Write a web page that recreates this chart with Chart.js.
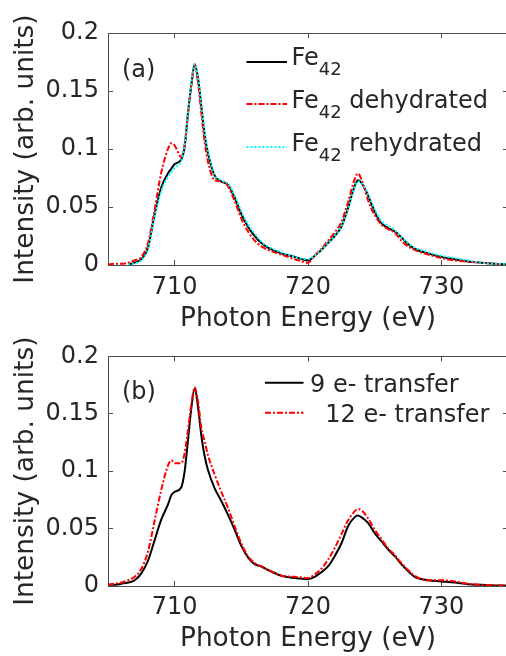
<!DOCTYPE html>
<html>
<head>
<meta charset="utf-8">
<script src="https://cdn.jsdelivr.net/npm/chart.js@4.4.1/dist/chart.umd.min.js"></script>
<style>
body{margin:0;background:#fff;overflow:hidden;}
#wrap{position:relative;width:506px;height:656px;overflow:hidden;}
canvas{position:absolute;left:0;}
#panelA{top:0;}
#panelB{top:328px;}
</style>
</head>
<body>
<div id="wrap">
<canvas id="panelA" width="510" height="336"></canvas>
<canvas id="panelB" width="510" height="328"></canvas>
</div>
<script>
var energy = [705,705.5,706,706.5,707,707.5,708,708.5,709,709.5,709.75,710,710.5,710.75,711,711.25,711.5,711.75,712,712.25,712.5,713,713.5,714,714.5,715,715.5,716,716.5,717,718,719,720,720.5,721,721.5,722,722.5,723,723.5,723.75,724,724.5,725,725.5,726,726.5,727,727.5,728,729,730,731,732,733,734,735];

// panel (a)
var fe42 = [null,null,null,0.0005,0.002,0.005,0.015,0.044,0.067,0.079,0.083,0.087,0.091,0.102,0.131,0.155,0.173,0.161,0.137,0.112,0.096,0.077,0.072,0.069,0.058,0.044,0.033,0.025,0.019,0.015,0.010,0.007,0.004,0.008,0.013,0.019,0.025,0.033,0.049,0.068,0.073,0.071,0.060,0.046,0.036,0.032,0.029,0.024,0.018,0.014,0.010,0.007,0.005,0.003,0.002,0.001,0.0005];
var fe42Dehydrated = [0.0005,0.001,0.001,0.002,0.004,0.007,0.019,0.048,0.080,0.100,0.105,0.103,0.093,0.104,0.130,0.156,0.173,0.157,0.131,0.106,0.089,0.073,0.072,0.068,0.055,0.040,0.029,0.021,0.016,0.013,0.009,0.005,0.002,0.008,0.014,0.021,0.028,0.037,0.054,0.074,0.079,0.074,0.056,0.043,0.035,0.031,0.028,0.021,0.016,0.013,0.009,0.006,0.004,0.003,0.002,0.001,0.0005];
var fe42Rehydrated = [null,null,null,0.0003,0.0015,0.004,0.014,0.042,0.064,0.076,0.080,0.084,0.090,0.103,0.131,0.157,0.173,0.162,0.139,0.115,0.098,0.078,0.073,0.070,0.060,0.046,0.035,0.027,0.020,0.016,0.011,0.007,0.005,0.008,0.013,0.019,0.025,0.033,0.048,0.067,0.072,0.071,0.061,0.048,0.038,0.034,0.030,0.024,0.019,0.015,0.011,0.008,0.006,0.004,0.002,0.001,0.001];

// panel (b)
var transfer9 = [0.001,0.001,0.002,0.003,0.005,0.011,0.022,0.040,0.058,0.071,0.079,0.082,0.086,0.100,0.127,0.155,0.172,0.156,0.131,0.113,0.101,0.085,0.074,0.062,0.049,0.035,0.025,0.019,0.017,0.014,0.009,0.007,0.006,0.008,0.012,0.017,0.026,0.037,0.052,0.060,0.0615,0.060,0.055,0.046,0.039,0.032,0.026,0.019,0.013,0.008,0.005,0.004,0.003,0.0015,0.001,0.0005,0.0003];
var transfer12 = [0.001,0.002,0.003,0.005,0.008,0.015,0.030,0.057,0.084,0.105,0.1095,0.107,0.107,0.116,0.136,0.158,0.173,0.161,0.138,0.126,0.114,0.097,0.082,0.068,0.052,0.037,0.026,0.020,0.017,0.014,0.009,0.008,0.007,0.010,0.015,0.023,0.033,0.045,0.057,0.065,0.067,0.066,0.059,0.049,0.041,0.033,0.027,0.020,0.014,0.009,0.005,0.005,0.004,0.002,0.001,0.0005,0.0003];

var xTicks = [710, 720, 730];
var yTicks = [0, 0.05, 0.1, 0.15, 0.2];
var labelsA = ['Fe_42', 'Fe_42 dehydrated', 'Fe_42 rehydrated'];
var labelsB = ['9 e- transfer', '  12 e- transfer'];

var FONT = 'DejaVu Sans';
var INK = '#262626';
var AXIS = '#4d4d4d';

function points(ys){
    var out = [];
    for (var i = 0; i < energy.length; i++) out.push({x: energy[i], y: ys[i]});
    return out;
}

function setTicks(list){
    return function(scale){
        scale.ticks = list.map(function(v){ return {value: v}; });
    };
}

// legend with subscripts + panel tag
var legendPlugin = {
    id: 'xasLegend',
    afterDraw: function(chart, args, opts){
        var ctx = chart.ctx;
        ctx.save();
        chart.data.datasets.forEach(function(ds, i){
            var ly = opts.lineY[i];
            ctx.strokeStyle = ds.borderColor;
            ctx.lineWidth = ds.borderWidth;
            ctx.setLineDash(ds.borderDash || []);
            ctx.beginPath();
            ctx.moveTo(opts.x0, ly);
            ctx.lineTo(opts.x1, ly);
            ctx.stroke();
            ctx.setLineDash([]);

            var tx = opts.textX, by = opts.baseY[i];
            var m = /^(.*?)_(\d+)(.*)$/.exec(ds.label);
            ctx.fillStyle = INK;
            ctx.textAlign = 'left';
            ctx.textBaseline = 'alphabetic';
            ctx.font = '24px "' + FONT + '"';
            if (m) {
                ctx.fillText(m[1], tx, by);
                tx += ctx.measureText(m[1]).width;
                ctx.font = '18px "' + FONT + '"';
                ctx.fillText(m[2], tx, by + 10);
                tx += ctx.measureText(m[2]).width;
                ctx.font = '24px "' + FONT + '"';
                ctx.fillText(m[3], tx, by);
            } else {
                ctx.fillText(ds.label, tx, by);
            }
        });
        ctx.font = '24px "' + FONT + '"';
        ctx.fillText(opts.tag, opts.tagX, opts.tagY);
        ctx.restore();
    }
};

function makeScales(area){
    var font = {family: FONT, size: 24};
    var titleFont = {family: FONT, size: 26.4};
    var scales = {};
    scales.x = {
        type: 'linear', min: 705, max: 735, position: 'bottom',
        afterBuildTicks: setTicks(xTicks),
        afterFit: function(s){ s.height = area.xHeight; },
        ticks: {font: font, color: INK, padding: area.xTickPad, maxRotation: 0, callback: function(v){ return String(v); }},
        grid: {drawOnChartArea: false, tickLength: -5, color: AXIS},
        border: {color: AXIS, width: 1},
        title: {display: true, text: 'Photon Energy (eV)', font: titleFont, color: INK, padding: {top: 0, bottom: area.xTitlePad}}
    };
    scales.y = {
        type: 'linear', min: 0, max: 0.2, position: 'left',
        afterBuildTicks: setTicks(yTicks),
        afterFit: function(s){ s.width = 108; },
        ticks: {font: font, color: INK, padding: 14, callback: function(v){ return String(v); }},
        grid: {drawOnChartArea: false, tickLength: -5, color: AXIS},
        border: {color: AXIS, width: 1},
        title: {display: true, text: 'Intensity (arb. units)', font: titleFont, color: INK, padding: {top: 10.7, bottom: 0}}
    };
    scales.x2 = {
        type: 'linear', min: 705, max: 735, position: 'top',
        afterBuildTicks: setTicks(xTicks),
        afterFit: function(s){ s.height = 0; },
        ticks: {display: false},
        grid: {drawOnChartArea: false, tickLength: -5, color: AXIS},
        border: {color: AXIS, width: 1}
    };
    scales.y2 = {
        type: 'linear', min: 0, max: 0.2, position: 'right',
        afterBuildTicks: setTicks(yTicks),
        afterFit: function(s){ s.width = 0; },
        ticks: {display: false},
        grid: {drawOnChartArea: false, tickLength: -5, color: AXIS},
        border: {color: AXIS, width: 1}
    };
    return scales;
}

function line(label, ys, color, dash, order){
    return {
        label: label,
        data: points(ys),
        borderColor: color,
        borderWidth: 2,
        borderDash: dash,
        pointRadius: 0,
        fill: false,
        cubicInterpolationMode: 'monotone',
        order: order,
        xAxisID: 'x',
        yAxisID: 'y'
    };
}

function chartPanelA(){
    var ctx = document.getElementById('panelA');
    var options = {};
    options.type = 'line';
    options.data = {datasets: [
        line(labelsA[0], fe42, '#000000', [], 3),
        line(labelsA[1], fe42Dehydrated, '#ff0000', [6, 2, 2, 2], 2),
        line(labelsA[2], fe42Rehydrated, '#00ffff', [2, 2], 1)
    ]};
    options.options = {
        responsive: false,
        animation: false,
        layout: {padding: {top: 33, right: 2, left: 0, bottom: 0}},
        scales: makeScales({xHeight: 71, xTickPad: 13, xTitlePad: 1.2}),
        plugins: {
            legend: {display: false},
            tooltip: {enabled: false},
            xasLegend: {x0: 246.5, x1: 287, textX: 291.5, lineY: [62, 104, 147], baseY: [64.5, 107.5, 150.5], tag: '(a)', tagX: 122, tagY: 77}
        }
    };
    options.plugins = [legendPlugin];
    new Chart(ctx, options);
}

function chartPanelB(){
    var ctx = document.getElementById('panelB');
    var options = {};
    options.type = 'line';
    options.data = {datasets: [
        line(labelsB[0], transfer9, '#000000', [], 2),
        line(labelsB[1], transfer12, '#ff0000', [6, 2, 2, 2], 1)
    ]};
    options.options = {
        responsive: false,
        animation: false,
        layout: {padding: {top: 28, right: 2, left: 0, bottom: 0}},
        scales: makeScales({xHeight: 70, xTickPad: 12.4, xTitlePad: 0.7}),
        plugins: {
            legend: {display: false},
            tooltip: {enabled: false},
            xasLegend: {x0: 265, x1: 303.5, textX: 310, lineY: [54.7, 84.7], baseY: [63.7, 93.7], tag: '(b)', tagX: 122, tagY: 70.5}
        }
    };
    options.plugins = [legendPlugin];
    new Chart(ctx, options);
}

chartPanelA();
chartPanelB();
</script>
</body>
</html>
